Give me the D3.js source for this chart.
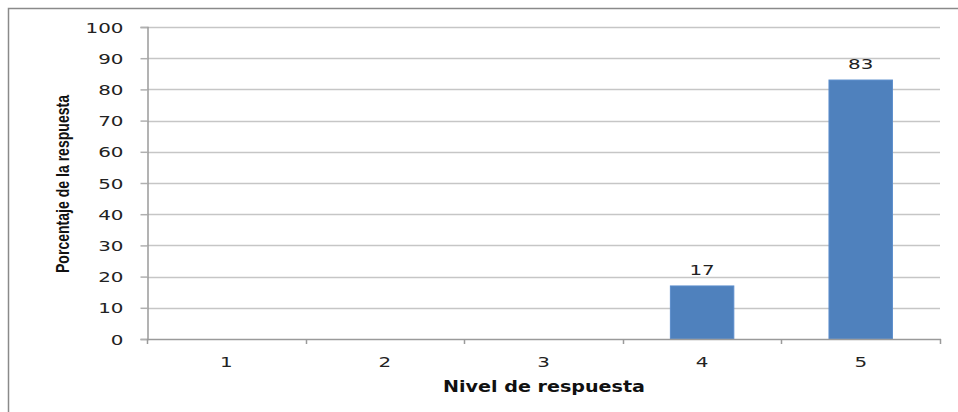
<!DOCTYPE html>
<html><head><meta charset="utf-8">
<script src="https://cdn.jsdelivr.net/npm/d3@7"></script>
<style>body{margin:0;background:#fff;} svg{display:block;}</style>
</head><body>
<svg id="chart" width="958" height="412"></svg>
<script>
const categories = ["1","2","3","4","5"];
const values = [0,0,0,17,83];
const barLabels = ["","","","17","83"];
const yTicks = [0,10,20,30,40,50,60,70,80,90,100];
const xTitle = "Nivel de respuesta";
const yTitle = "Porcentaje de la respuesta";

(function(){
const svg = d3.select("#chart");
const pL = 147, pR = 940, pT = 27, pB = 339;
const SX = 1.42;

svg.append("rect").attr("x",8.5).attr("y",8.5).attr("width",1200).attr("height",1200)
  .attr("fill","none").attr("stroke","#8a8a8a").attr("stroke-width",1.5);

const y = d3.scaleLinear().domain([0,100]).range([pB, pT]);
const x = d3.scaleBand().domain(categories).range([pL, pR]).paddingInner(0.6).paddingOuter(0.3);
const xe = d3.scaleLinear().domain([0,categories.length]).range([pL, pR]);

// gridlines
svg.append("g").selectAll("line").data(yTicks.filter(d=>d>0)).join("line")
  .attr("x1", pL).attr("x2", pR).attr("y1", d=>Math.round(y(d))+0.5).attr("y2", d=>Math.round(y(d))+0.5)
  .attr("stroke","#c6c6c6").attr("stroke-width",1.5);

// y axis
const yAxis = svg.append("g").attr("transform",`translate(${pL+0.5},0)`)
  .call(d3.axisLeft(y).tickValues(yTicks).tickSize(7).tickPadding(0));
yAxis.select(".domain").attr("stroke","#9a9a9a").attr("stroke-width",1.5);
yAxis.selectAll(".tick line").attr("stroke","#b0b0b0").attr("stroke-width",1.5);
yAxis.selectAll(".tick text")
  .attr("x", -24/SX).attr("dy","0.36em")
  .attr("transform",`scale(${SX},1)`)
  .style("font-family","'DejaVu Sans', Verdana, sans-serif").style("font-size","14px").attr("fill","#222");

const rows = categories.map((c,i)=>({c, v: values[i], l: barLabels[i]}));

// bars
svg.append("g").selectAll("rect").data(rows.filter(d=>d.v>0)).join("rect")
  .attr("x", d=>x(d.c)).attr("width", x.bandwidth())
  .attr("y", d=>y(d.v)).attr("height", d=>y(0)-y(d.v))
  .attr("fill","#4f81bd").attr("stroke","#5a8ccb").attr("stroke-width",1);

// bar labels
svg.append("g").selectAll("text").data(rows.filter(d=>d.l)).join("text")
  .attr("transform", d=>`translate(${x(d.c)+x.bandwidth()/2},${y(d.v)-11}) scale(${SX},1)`)
  .attr("text-anchor","middle")
  .style("font-family","'DejaVu Sans', Verdana, sans-serif").style("font-size","14px").attr("fill","#222")
  .text(d=>d.l);

// x axis
svg.append("line").attr("x1",pL).attr("x2",pR+1).attr("y1",pB+0.5).attr("y2",pB+0.5)
  .attr("stroke","#9a9a9a").attr("stroke-width",1.5);
svg.append("g").selectAll("line").data(d3.range(categories.length+1)).join("line")
  .attr("x1", d=>Math.round(xe(d))+0.5).attr("x2", d=>Math.round(xe(d))+0.5)
  .attr("y1", pB).attr("y2", pB+5).attr("stroke","#9a9a9a").attr("stroke-width",1.5);
svg.append("g").selectAll("text").data(categories).join("text")
  .attr("transform", d=>`translate(${x(d)+x.bandwidth()/2},367) scale(${SX},1)`)
  .attr("text-anchor","middle")
  .style("font-family","'DejaVu Sans', Verdana, sans-serif").style("font-size","14px").attr("fill","#222")
  .text(d=>d);

// titles
svg.append("text").attr("x",544).attr("y",392).attr("text-anchor","middle")
  .attr("textLength",202).attr("lengthAdjust","spacingAndGlyphs")
  .style("font-family","'DejaVu Sans', Verdana, sans-serif").style("font-weight","bold").style("font-size","15px").attr("fill","#111")
  .text(xTitle);
svg.append("text").attr("transform","translate(69,184) rotate(-90)").attr("text-anchor","middle")
  .attr("textLength",178).attr("lengthAdjust","spacingAndGlyphs")
  .style("font-family","'Liberation Sans Narrow', 'Arial Narrow', 'Liberation Sans', sans-serif").style("font-weight","bold").style("font-size","19px").attr("fill","#111")
  .text(yTitle);
})();
</script>
</body></html>
